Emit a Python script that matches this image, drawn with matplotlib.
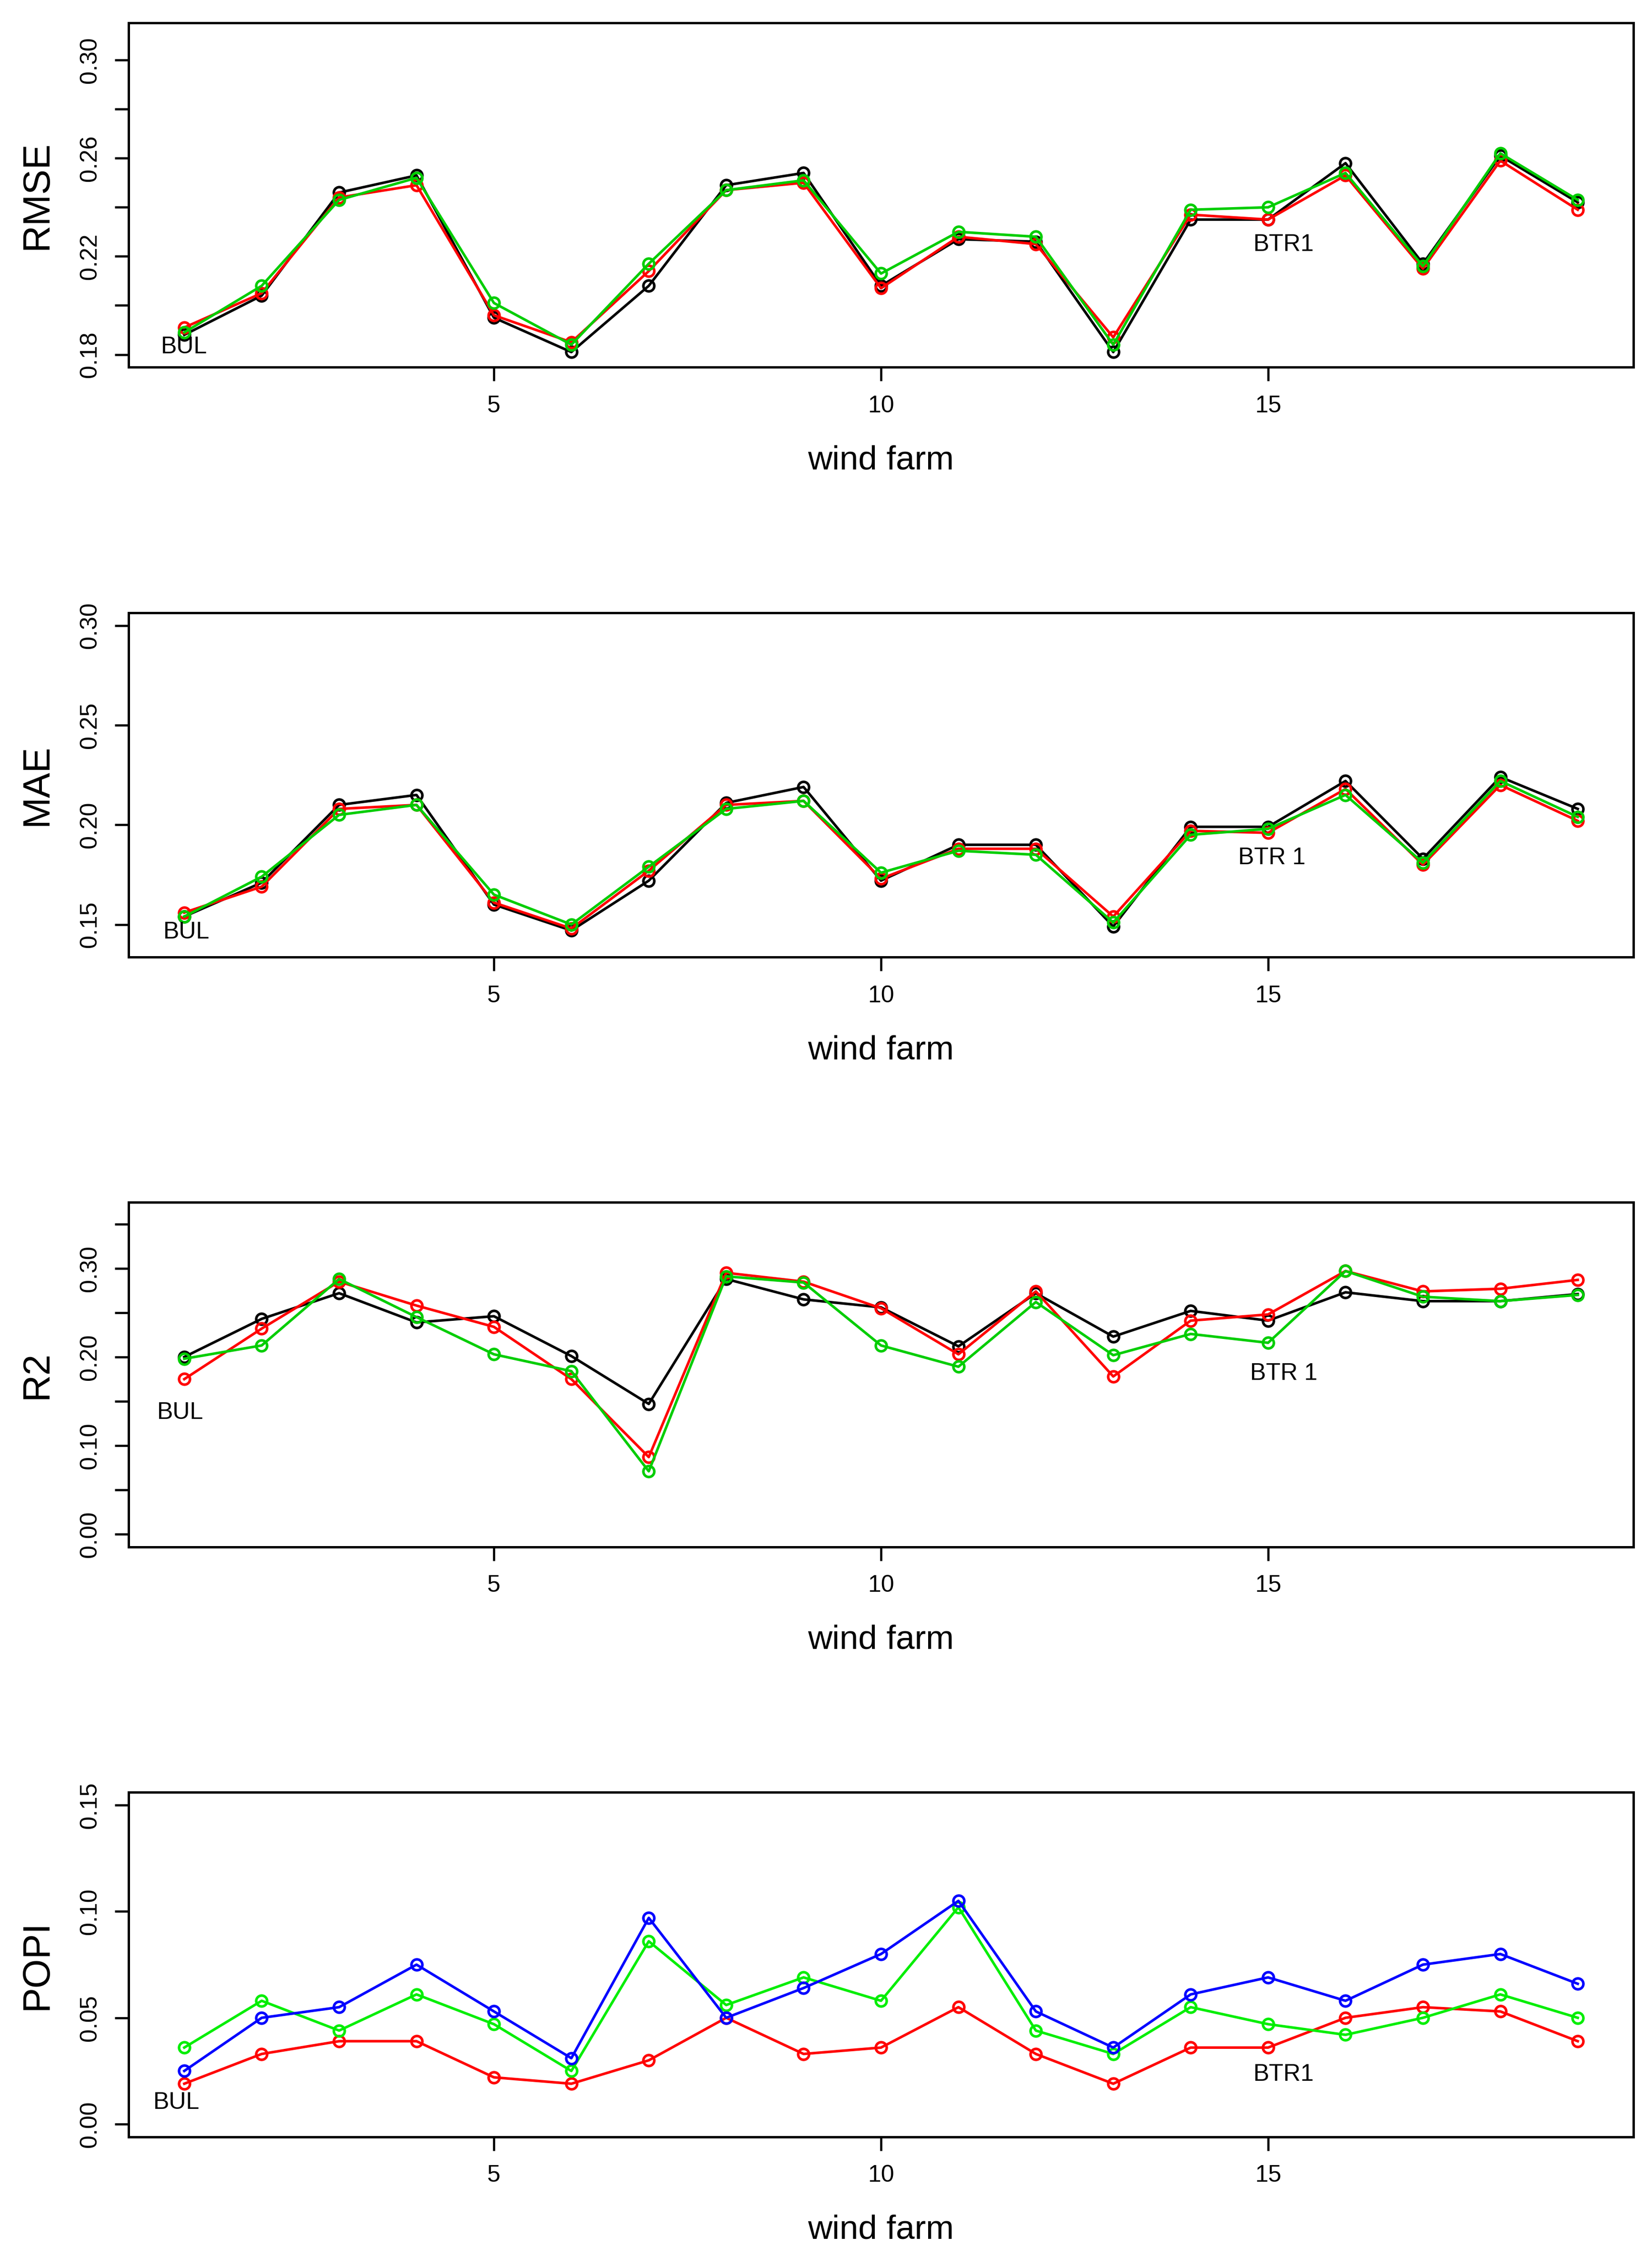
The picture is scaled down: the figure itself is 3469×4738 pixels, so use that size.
import numpy as np
import matplotlib
matplotlib.use("Agg")
import matplotlib.pyplot as plt

plt.rcParams['font.family'] = ['Liberation Sans', 'DejaVu Sans']

# ── Data ──────────────────────────────────────────────────────────────────
farm = np.arange(1, 20)

rmse_black = [0.188, 0.204, 0.246, 0.253, 0.195, 0.181, 0.208, 0.249, 0.254, 0.208,
              0.227, 0.226, 0.181, 0.235, 0.235, 0.258, 0.217, 0.261, 0.242]
rmse_red   = [0.191, 0.205, 0.244, 0.249, 0.196, 0.185, 0.214, 0.247, 0.250, 0.207,
              0.228, 0.225, 0.187, 0.237, 0.235, 0.253, 0.215, 0.259, 0.239]
rmse_green = [0.189, 0.208, 0.243, 0.252, 0.201, 0.184, 0.217, 0.247, 0.251, 0.213,
              0.230, 0.228, 0.184, 0.239, 0.240, 0.254, 0.216, 0.262, 0.243]

mae_black = [0.154, 0.171, 0.210, 0.215, 0.160, 0.147, 0.172, 0.211, 0.219, 0.172,
             0.190, 0.190, 0.149, 0.199, 0.199, 0.222, 0.183, 0.224, 0.208]
mae_red   = [0.156, 0.169, 0.208, 0.210, 0.161, 0.148, 0.177, 0.210, 0.212, 0.173,
             0.188, 0.188, 0.154, 0.197, 0.196, 0.218, 0.180, 0.220, 0.202]
mae_green = [0.154, 0.174, 0.205, 0.210, 0.165, 0.150, 0.179, 0.208, 0.212, 0.176,
             0.187, 0.185, 0.151, 0.195, 0.198, 0.215, 0.181, 0.222, 0.204]

r2_black = [0.200, 0.243, 0.272, 0.239, 0.246, 0.201, 0.147, 0.288, 0.265, 0.256,
            0.212, 0.272, 0.223, 0.252, 0.241, 0.273, 0.263, 0.263, 0.271]
r2_red   = [0.175, 0.232, 0.285, 0.258, 0.234, 0.175, 0.087, 0.295, 0.285, 0.255,
            0.203, 0.274, 0.178, 0.241, 0.248, 0.297, 0.274, 0.277, 0.287]
r2_green = [0.198, 0.213, 0.288, 0.245, 0.203, 0.184, 0.071, 0.291, 0.284, 0.213,
            0.189, 0.262, 0.202, 0.226, 0.216, 0.297, 0.268, 0.263, 0.270]

popi_red   = [0.019, 0.033, 0.039, 0.039, 0.022, 0.019, 0.030, 0.050, 0.033, 0.036,
              0.055, 0.033, 0.019, 0.036, 0.036, 0.050, 0.055, 0.053, 0.039]
popi_green = [0.036, 0.058, 0.044, 0.061, 0.047, 0.025, 0.086, 0.056, 0.069, 0.058,
              0.102, 0.044, 0.033, 0.055, 0.047, 0.042, 0.050, 0.061, 0.050]
popi_blue  = [0.025, 0.050, 0.055, 0.075, 0.053, 0.031, 0.097, 0.050, 0.064, 0.080,
              0.105, 0.053, 0.036, 0.061, 0.069, 0.058, 0.075, 0.080, 0.066]

GREEN3 = "#00CD00"
GREEN2 = "#00EE00"

panels = [
    dict(ylabel="RMSE", ylim=(0.18, 0.31), ticks=[0.18, 0.20, 0.22, 0.24, 0.26, 0.28, 0.30],
         labels=["0.18", "", "0.22", "", "0.26", "", "0.30"],
         series=[(rmse_black, "black"), (rmse_red, "red"), (rmse_green, GREEN3)],
         bul=(1.0, 0.1831), btr=(15.2, 0.2248, "BTR1")),
    dict(ylabel="MAE", ylim=(0.14, 0.30), ticks=[0.15, 0.20, 0.25, 0.30],
         labels=["0.15", "0.20", "0.25", "0.30"],
         series=[(mae_black, "black"), (mae_red, "red"), (mae_green, GREEN3)],
         bul=(1.03, 0.146), btr=(15.05, 0.1834, "BTR 1")),
    dict(ylabel="R2", ylim=(0.0, 0.36), ticks=[0.0, 0.05, 0.10, 0.15, 0.20, 0.25, 0.30, 0.35],
         labels=["0.00", "", "0.10", "", "0.20", "", "0.30", ""],
         series=[(r2_black, "black"), (r2_red, "red"), (r2_green, GREEN3)],
         bul=(0.95, 0.137), btr=(15.2, 0.181, "BTR 1")),
    dict(ylabel="POPI", ylim=(0.0, 0.15), ticks=[0.0, 0.05, 0.10, 0.15],
         labels=["0.00", "0.05", "0.10", "0.15"],
         series=[(popi_red, "red"), (popi_green, GREEN2), (popi_blue, "blue")],
         bul=(0.9, 0.010), btr=(15.2, 0.0232, "BTR1")),
]

fig = plt.figure(figsize=(3469 / 300, 4738 / 300), dpi=300)
bottoms = [0.8372, 0.5757, 0.3143, 0.0528]
left, width, height = 0.0778, 0.9110, 0.1527

for p, b in zip(panels, bottoms):
    ax = fig.add_axes([left, b, width, height])
    for vals, col in p["series"]:
        ax.plot(farm, vals, color=col, lw=1.3, marker="o", ms=5.5,
                mfc="none", mec=col, mew=1.3)

    # R style 4% padding
    lo, hi = p["ylim"]
    pad = 0.04 * (hi - lo)
    ax.set_ylim(lo - pad, hi + pad)
    ax.set_xlim(1 - 0.04 * 18, 19 + 0.04 * 18)

    ax.set_xticks([5, 10, 15])
    ax.set_yticks(p["ticks"])
    ax.set_yticklabels(p["labels"], rotation=90, va="center")
    ax.tick_params(axis="both", direction="out", length=7, width=1.1,
                   labelsize=12, pad=7)
    for s in ax.spines.values():
        s.set_linewidth(1.2)

    ax.set_xlabel("wind farm", fontsize=17, labelpad=14)
    ax.set_ylabel(p["ylabel"], fontsize=19, labelpad=12)

    bx, by = p["bul"]
    ax.text(bx, by, "BUL", fontsize=12, ha="center", va="center")
    tx, ty, tl = p["btr"]
    ax.text(tx, ty, tl, fontsize=12, ha="center", va="center")

fig.savefig("out.png", dpi=300)
